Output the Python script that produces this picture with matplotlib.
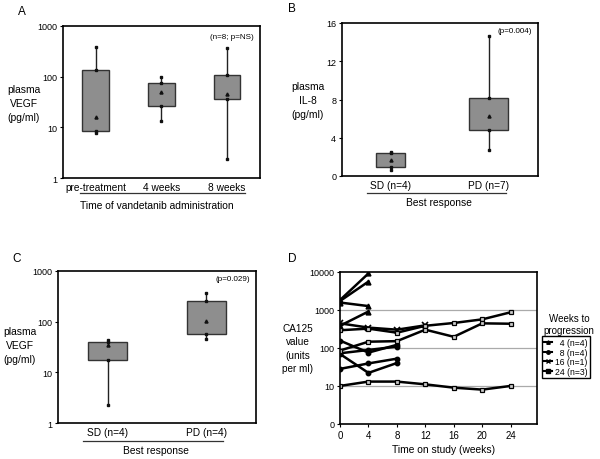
import matplotlib
matplotlib.use("Agg")
import matplotlib.pyplot as plt
from matplotlib.lines import Line2D
from matplotlib.ticker import NullLocator

plt.rcParams['font.family'] = ['Liberation Sans', 'DejaVu Sans']

# panel A: plasma VEGF over time
a_groups = ['pre-treatment', '4 weeks', '8 weeks']
a_low = [7.9, 13.1, 2.4]
a_q1 = [8.7, 26.3, 36]
a_mid = [16.4, 49.4, 45]
a_q3 = [135, 75, 107]
a_high = [377, 97, 365]

# panel B: plasma IL-8 by best response
b_groups = ['SD (n=4)', 'PD (n=7)']
b_low = [0.63, 2.72]
b_q1 = [0.97, 4.84]
b_mid = [1.67, 6.24]
b_q3 = [2.37, 8.16]
b_high = [2.48, 14.67]

# panel C: plasma VEGF by best response
c_groups = ['SD (n=4)', 'PD (n=4)']
c_low = [2.3, 45]
c_q1 = [17.3, 56]
c_mid = [35, 104]
c_q3 = [39, 253]
c_high = [43, 364]

# panel D: CA125 per patient
weeks = [0, 4, 8, 12, 16, 20, 24]
tri_1 = [1800, 9000]
tri_2 = [1700, 5500]
tri_3 = [1550, 1250]
tri_4 = [380, 900]
circ_1 = [155, 75, 120]
circ_2 = [72, 88, 108]
circ_3 = [69, 22, 40]
circ_4 = [28, 39, 52]
cross_1 = [440, 340, 300, 390]
sq_1 = [290, 320, 250, 380, 450, 560, 860]
sq_2 = [85, 145, 150, 300, 195, 440, 430]
sq_3 = [10, 13, 13, 11, 9, 8, 10]
legend_labels = ['\u20074 (n=4)', '\u20078 (n=4)', '16 (n=1)', '24 (n=3)']

W, H = 600, 460
BOX = '#8e8e8e'


def px(x, y):
    return x / W, 1 - y / H


def add_axes(left, top, right, bottom):
    return fig.add_axes([left / W, 1 - bottom / H, (right - left) / W, (bottom - top) / H])


def style(ax):
    for s in ax.spines.values():
        s.set_linewidth(1.2)
    ax.tick_params(axis='y', labelsize=6.5, length=2, width=0.8, pad=2)
    ax.tick_params(axis='x', labelsize=7.3, length=0, pad=3)


def boxes(ax, low, q1, mid, q3, high, widths):
    pos = list(range(1, len(low) + 1))
    for i, x in enumerate(pos):
        ax.plot([x, x], [low[i], high[i]], color='#222222', lw=1, zorder=1)
        ax.bar(x, q3[i] - q1[i], bottom=q1[i], width=widths[i], color=BOX,
               edgecolor='#333333', linewidth=1, zorder=2)
        ax.plot([x] * 4, [low[i], q1[i], q3[i], high[i]], 's', color='#111111',
                ms=2, zorder=3)
        ax.plot(x, mid[i], '^', color='#111111', ms=2.2, zorder=3)
    ax.set_xlim(0.5, len(low) + 0.5)
    ax.set_xticks(pos)


def label(x, y, s, size=7.4, **kw):
    fig.text(*px(x, y), s, fontsize=size, ha='center', va='center', **kw)


def hline(x0, x1, y):
    fig.add_artist(Line2D([x0 / W, x1 / W], [1 - y / H, 1 - y / H], color='#333333', lw=0.9))


fig = plt.figure(figsize=(6, 4.6), dpi=100)

# A
ax = add_axes(62.7, 26.7, 260, 179.3)
boxes(ax, a_low, a_q1, a_mid, a_q3, a_high, [0.4, 0.4, 0.4])
ax.set_yscale('log')
ax.set_ylim(1, 1000)
ax.set_yticks([1, 10, 100, 1000])
ax.set_yticklabels(['1', '10', '100', '1000'])
ax.yaxis.set_minor_locator(NullLocator())
ax.set_xticklabels(a_groups)
style(ax)
ax.text(0.97, 0.93, '(n=8; p=NS)', transform=ax.transAxes, fontsize=5.8, ha='right', va='center')
label(24, 104, 'plasma\nVEGF\n(pg/ml)', linespacing=1.5)
label(22, 12, 'A', size=8.5)
hline(80, 245, 194)
label(157, 206, 'Time of vandetanib administration')

# B
ax = add_axes(341.7, 24, 537.7, 177)
boxes(ax, b_low, b_q1, b_mid, b_q3, b_high, [0.3, 0.4])
ax.set_ylim(0, 16)
ax.set_yticks([0, 4, 8, 12, 16])
ax.set_xticklabels(b_groups)
style(ax)
ax.text(0.97, 0.95, '(p=0.004)', transform=ax.transAxes, fontsize=5.8, ha='right', va='center')
label(307.5, 101, 'plasma\nIL-8\n(pg/ml)', linespacing=1.5)
label(292, 9, 'B', size=8.5)
hline(366.7, 505.7, 194.3)
label(439, 203, 'Best response')

# C
ax = add_axes(58.3, 271.7, 255.7, 424.3)
boxes(ax, c_low, c_q1, c_mid, c_q3, c_high, [0.4, 0.4])
ax.set_yscale('log')
ax.set_ylim(1, 1000)
ax.set_yticks([1, 10, 100, 1000])
ax.set_yticklabels(['1', '10', '100', '1000'])
ax.yaxis.set_minor_locator(NullLocator())
ax.set_xticklabels(c_groups)
style(ax)
ax.text(0.97, 0.95, '(p=0.029)', transform=ax.transAxes, fontsize=5.8, ha='right', va='center')
label(20, 346, 'plasma\nVEGF\n(pg/ml)', linespacing=1.5)
label(17, 259, 'C', size=8.5)
hline(83, 222.7, 441.7)
label(156, 450.7, 'Best response')

# D
ax = add_axes(340, 272.7, 537, 425)
lw = 1.8
for ys in [tri_1, tri_2, tri_3, tri_4]:
    ax.plot(weeks[:len(ys)], ys, '-^', color='black', lw=lw, ms=3.5)
for ys in [circ_1, circ_2, circ_3, circ_4]:
    ax.plot(weeks[:len(ys)], ys, '-o', color='black', lw=lw, ms=3.2)
ax.plot(weeks[:len(cross_1)], cross_1, '-x', color='black', lw=lw, ms=4, mew=1.2)
for ys in [sq_1, sq_2, sq_3]:
    ax.plot(weeks[:len(ys)], ys, '-s', color='black', lw=lw, ms=3.5,
            mfc='#cccccc', mew=0.9)
ax.set_yscale('log')
ax.set_ylim(1, 10000)
ax.set_yticks([1, 10, 100, 1000, 10000])
ax.set_yticklabels(['0', '10', '100', '1000', '10000'])
ax.yaxis.set_minor_locator(NullLocator())
for g in [10, 100, 1000]:
    ax.axhline(g, color='#aaaaaa', lw=0.9, zorder=0)
ax.set_xlim(0, 27.7)
ax.set_xticks(weeks)
style(ax)
ax.tick_params(axis='x', labelsize=7, length=2, width=0.8, pad=2)
handles = [Line2D([], [], color='black', lw=1.5, marker=m, ms=2.5)
           for m in ['^', 'o', 'x', 's']]
leg = fig.legend(handles, legend_labels, loc='upper left', bbox_to_anchor=px(541.7, 337.3),
                 borderaxespad=0, fontsize=6.2, handlelength=1.0, handletextpad=0.3,
                 labelspacing=0.05, borderpad=0.25, fancybox=False, framealpha=1)
leg.get_frame().set_edgecolor('black')
leg.get_frame().set_linewidth(1)
label(569, 325, 'Weeks to\nprogression', size=7, linespacing=1.3)
label(298, 349, 'CA125\nvalue\n(units\nper ml)', size=7.2, linespacing=1.45)
label(292, 259, 'D', size=8.5)
label(444, 450, 'Time on study (weeks)')

fig.savefig('out.png', dpi=100)
